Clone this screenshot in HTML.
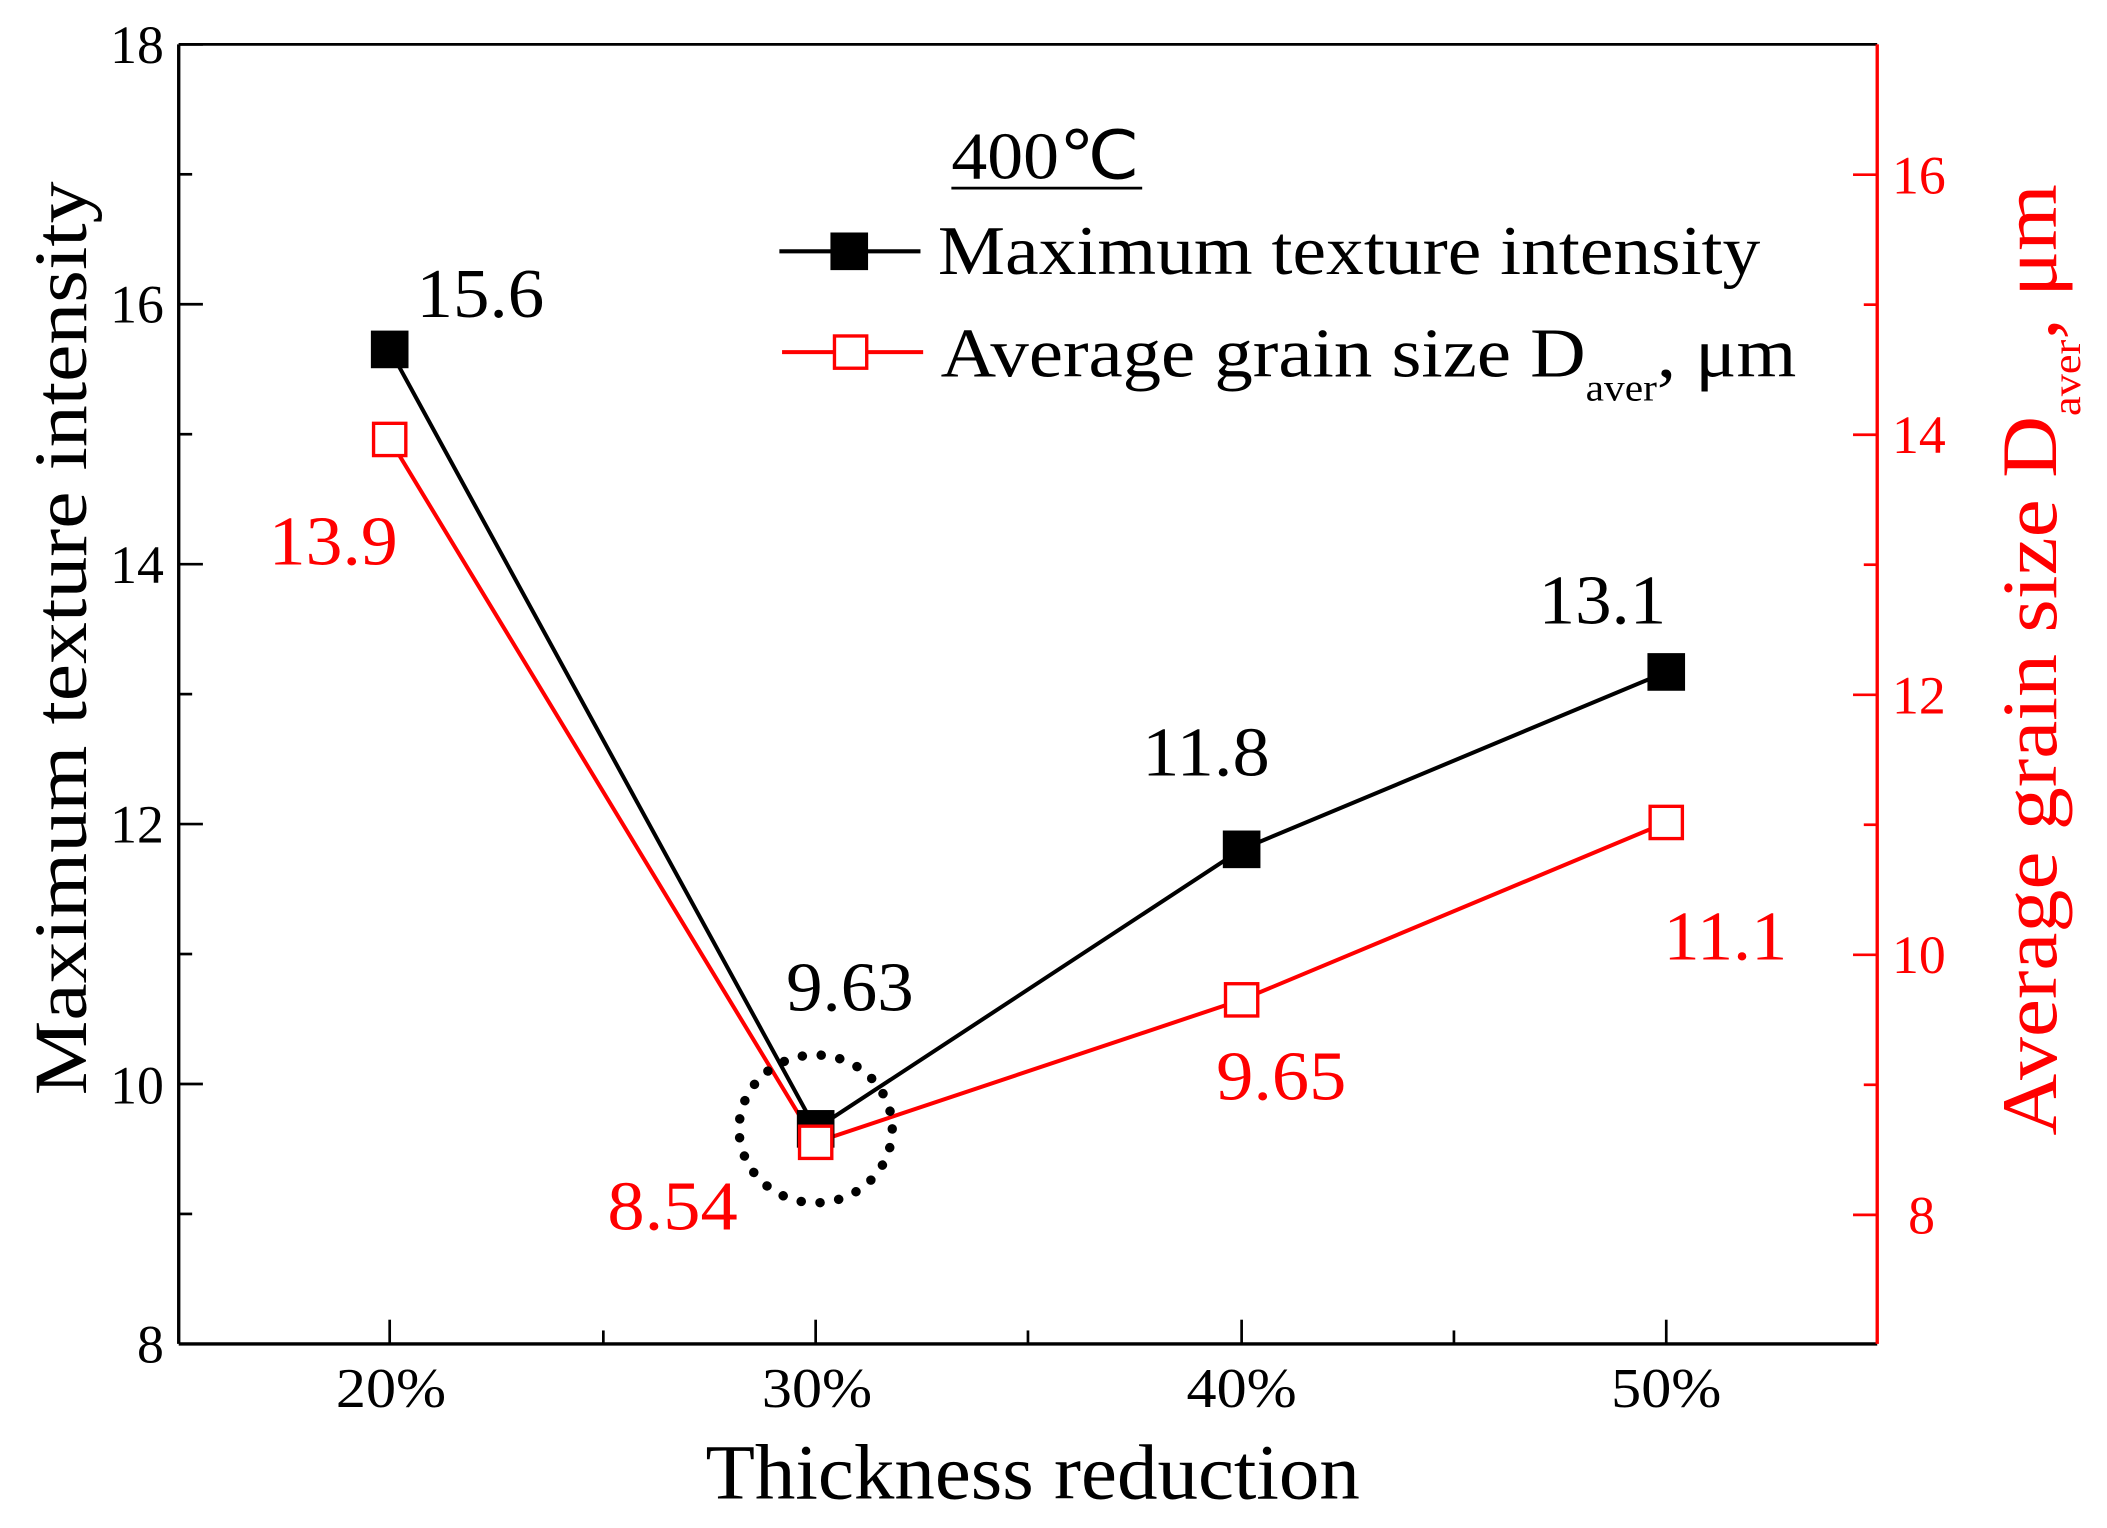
<!DOCTYPE html>
<html><head><meta charset="utf-8"><style>html,body{margin:0;padding:0;background:#fff}svg{display:block}</style></head>
<body>
<svg width="2107" height="1528" viewBox="0 0 1568 1137" preserveAspectRatio="none" xmlns="http://www.w3.org/2000/svg" font-family="Liberation Serif, serif">
<rect width="1568" height="1137" fill="#fff"/>
<line x1="133" y1="33" x2="133" y2="1000" stroke="#000" stroke-width="2.5"/>
<line x1="133" y1="1000" x2="1397" y2="1000" stroke="#000" stroke-width="2.5"/>
<line x1="133" y1="33" x2="1397" y2="33" stroke="#000" stroke-width="2"/>
<line x1="1397" y1="33" x2="1397" y2="1000" stroke="#f00" stroke-width="2.5"/>
<g stroke="#000" stroke-width="2">
<line x1="133" y1="33" x2="151" y2="33"/><line x1="133" y1="226.4" x2="151" y2="226.4"/><line x1="133" y1="419.8" x2="151" y2="419.8"/><line x1="133" y1="613.2" x2="151" y2="613.2"/><line x1="133" y1="806.6" x2="151" y2="806.6"/>
<line x1="133" y1="129.7" x2="143" y2="129.7"/><line x1="133" y1="323.1" x2="143" y2="323.1"/><line x1="133" y1="516.5" x2="143" y2="516.5"/><line x1="133" y1="709.9" x2="143" y2="709.9"/><line x1="133" y1="903.3" x2="143" y2="903.3"/>
<line x1="290" y1="1000" x2="290" y2="982"/><line x1="607" y1="1000" x2="607" y2="982"/><line x1="924" y1="1000" x2="924" y2="982"/><line x1="1240" y1="1000" x2="1240" y2="982"/>
<line x1="449" y1="1000" x2="449" y2="990"/><line x1="765" y1="1000" x2="765" y2="990"/><line x1="1082" y1="1000" x2="1082" y2="990"/>
</g>
<g stroke="#f00" stroke-width="2">
<line x1="1397" y1="130" x2="1379" y2="130"/><line x1="1397" y1="323.5" x2="1379" y2="323.5"/><line x1="1397" y1="517" x2="1379" y2="517"/><line x1="1397" y1="710.5" x2="1379" y2="710.5"/><line x1="1397" y1="904" x2="1379" y2="904"/>
<line x1="1397" y1="226.7" x2="1387" y2="226.7"/><line x1="1397" y1="420.2" x2="1387" y2="420.2"/><line x1="1397" y1="613.7" x2="1387" y2="613.7"/><line x1="1397" y1="807.2" x2="1387" y2="807.2"/>
</g>
<g font-size="40" text-anchor="end" fill="#000">
<text x="122" y="47">18</text><text x="122" y="240">16</text><text x="122" y="434">14</text><text x="122" y="627">12</text><text x="122" y="821">10</text><text x="122" y="1014">8</text>
</g>
<g font-size="40" fill="#f00">
<text x="1408" y="144">16</text><text x="1408" y="337">14</text><text x="1408" y="531">12</text><text x="1408" y="724">10</text><text x="1420" y="918">8</text>
</g>
<g font-size="42">
<text x="250" y="1047" textLength="82" lengthAdjust="spacingAndGlyphs">20%</text><text x="567" y="1047" textLength="82" lengthAdjust="spacingAndGlyphs">30%</text><text x="883" y="1047" textLength="82" lengthAdjust="spacingAndGlyphs">40%</text><text x="1199" y="1047" textLength="82" lengthAdjust="spacingAndGlyphs">50%</text>
</g>
<text x="525" y="1115" font-size="58" textLength="487" lengthAdjust="spacingAndGlyphs">Thickness reduction</text>
<text transform="translate(64,475) rotate(-90)" font-size="56" text-anchor="middle" textLength="680" lengthAdjust="spacingAndGlyphs">Maximum texture intensity</text>
<text transform="translate(1530,845) rotate(-90) scale(1.1,1)" font-size="58" fill="#f00">Average grain size D<tspan font-size="30" dy="18">aver</tspan><tspan dy="-18">, μm</tspan></text>
<polyline points="290,260 607,840 924,632 1240,500" fill="none" stroke="#000" stroke-width="3"/>
<polyline points="290,327 607,850 924,744 1240,612" fill="none" stroke="#f00" stroke-width="3"/>
<ellipse cx="607" cy="840" rx="57" ry="55" fill="none" stroke="#000" stroke-width="7" stroke-dasharray="0.1 14" stroke-linecap="round"/>
<g fill="#000">
<rect x="276" y="246" width="28" height="28"/><rect x="593" y="826" width="28" height="28"/><rect x="910" y="618" width="28" height="28"/><rect x="1226" y="486" width="28" height="28"/>
</g>
<g fill="#fff" stroke="#f00" stroke-width="2.5">
<rect x="278" y="315" width="24" height="24"/><rect x="595" y="838" width="24" height="24"/><rect x="912" y="732" width="24" height="24"/><rect x="1228" y="600" width="24" height="24"/>
</g>
<g font-size="52">
<text x="310" y="236" textLength="95" lengthAdjust="spacingAndGlyphs">15.6</text><text x="585" y="752" textLength="95" lengthAdjust="spacingAndGlyphs">9.63</text><text x="850" y="577" textLength="95" lengthAdjust="spacingAndGlyphs">11.8</text><text x="1145" y="464" textLength="95" lengthAdjust="spacingAndGlyphs">13.1</text>
<g fill="#f00"><text x="200" y="420" textLength="96" lengthAdjust="spacingAndGlyphs">13.9</text><text x="452" y="915" textLength="97" lengthAdjust="spacingAndGlyphs">8.54</text><text x="905" y="818" textLength="97" lengthAdjust="spacingAndGlyphs">9.65</text><text x="1238" y="714" textLength="92" lengthAdjust="spacingAndGlyphs">11.1</text></g>
</g>
<text x="708" y="133" font-size="50" textLength="140" lengthAdjust="spacingAndGlyphs">400℃</text>
<line x1="708" y1="140" x2="850" y2="140" stroke="#000" stroke-width="2"/>
<line x1="580" y1="187" x2="685" y2="187" stroke="#000" stroke-width="3"/>
<rect x="618" y="173" width="28" height="28" fill="#000"/>
<text x="698" y="204" font-size="52" textLength="612" lengthAdjust="spacingAndGlyphs">Maximum texture intensity</text>
<line x1="582" y1="262" x2="687" y2="262" stroke="#f00" stroke-width="3"/>
<rect x="621" y="250" width="24" height="24" fill="#fff" stroke="#f00" stroke-width="2.5"/>
<text transform="translate(700,280) scale(1.10,1)" font-size="52">Average grain size D<tspan font-size="28" dy="18">aver</tspan><tspan dy="-18">, μm</tspan></text>
</svg>
</body></html>
